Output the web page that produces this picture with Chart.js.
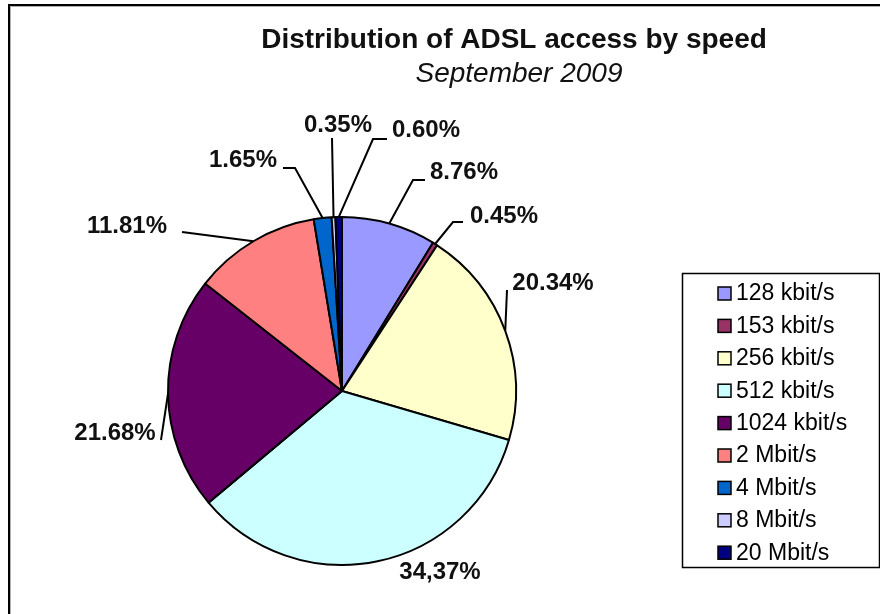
<!DOCTYPE html>
<html>
<head>
<meta charset="utf-8">
<script src="https://cdn.jsdelivr.net/npm/chart.js@4.4.0/dist/chart.umd.min.js"></script>
<style>
  html, body { margin: 0; padding: 0; background: #ffffff; }
  #wrap { width: 880px; height: 614px; }
</style>
</head>
<body>
<div id="wrap"><canvas id="c" width="880" height="614"></canvas></div>
<script>
// ---- data ----
const categories = ['128 kbit/s', '153 kbit/s', '256 kbit/s', '512 kbit/s', '1024 kbit/s', '2 Mbit/s', '4 Mbit/s', '8 Mbit/s', '20 Mbit/s'];
const shares = [8.76, 0.45, 20.34, 34.37, 21.68, 11.81, 1.65, 0.35, 0.60];
const valueLabels = ['8.76%', '0.45%', '20.34%', '34,37%', '21.68%', '11.81%', '1.65%', '0.35%', '0.60%'];
const sliceColors = ['#9999FF', '#993366', '#FFFFCC', '#CCFFFF', '#660066', '#FF8080', '#0066CC', '#CCCCFF', '#000080'];
const titleText = 'Distribution of ADSL access by speed';
const subtitleText = 'September 2009';

// label layout (offsets from pie centre, px): text centre, elbow, tail end
const labelLayout = [
  { t: [122, -219], e: [71, -211], tail: [83, -211] },
  { t: [162, -175], e: [111, -169], tail: [121, -169] },
  { t: [211, -108], e: [165, -101] },
  { t: [98, 181] },
  { t: [-227, 42], e: [-181, 49] },
  { t: [-215, -165], e: [-160, -159] },
  { t: [-99, -231], e: [-47, -223], tail: [-59, -223] },
  { t: [-4, -266], e: [-10, -253] },
  { t: [84, -261], e: [31, -252], tail: [45, -252] }
];

const framePlugin = {
  id: 'frame',
  beforeDraw(chart) {
    const ctx = chart.ctx;
    ctx.save();
    ctx.fillStyle = '#ffffff';
    ctx.fillRect(0, 0, chart.width, chart.height);
    ctx.strokeStyle = '#000000';
    ctx.lineWidth = 2;
    ctx.strokeRect(9, 5, 1100, 800);
    ctx.strokeStyle = '#b0b0b0';
    ctx.lineWidth = 1;
    ctx.strokeRect(10.5, 6.5, 1100, 800);
    ctx.restore();
  }
};

const decorPlugin = {
  id: 'decor',
  afterDraw(chart) {
    const ctx = chart.ctx;
    const meta = chart.getDatasetMeta(0);
    ctx.save();
    // title
    ctx.fillStyle = '#111111';
    ctx.textAlign = 'center';
    ctx.textBaseline = 'alphabetic';
    ctx.font = 'bold 28px "Liberation Sans", Arial, sans-serif';
    ctx.fillText(titleText, 514, 48);
    ctx.font = 'italic 28px "Liberation Sans", Arial, sans-serif';
    ctx.fillText(subtitleText, 519, 82);

    // data labels with leader lines
    ctx.font = 'bold 24px "Liberation Sans", Arial, sans-serif';
    ctx.textBaseline = 'middle';
    meta.data.forEach((arc, i) => {
      const p = arc.getProps(['x', 'y', 'startAngle', 'endAngle', 'outerRadius'], true);
      const cx = p.x, cy = p.y;
      const lay = labelLayout[i];
      const mid = (p.startAngle + p.endAngle) / 2;
      const ax = cx + p.outerRadius * Math.cos(mid);
      const ay = cy + p.outerRadius * Math.sin(mid);
      if (lay.e) {
        ctx.strokeStyle = '#000000';
        ctx.lineWidth = 2;
        ctx.beginPath();
        ctx.moveTo(ax, ay);
        ctx.lineTo(cx + lay.e[0], cy + lay.e[1]);
        if (lay.tail) ctx.lineTo(cx + lay.tail[0], cy + lay.tail[1]);
        ctx.stroke();
      }
      ctx.fillStyle = '#111111';
      ctx.textAlign = 'center';
      ctx.fillText(valueLabels[i], cx + lay.t[0], cy + lay.t[1]);
    });

    // legend
    const lx = 682, ly = 273, lw = 197, lh = 294;
    ctx.strokeStyle = '#000000';
    ctx.lineWidth = 1.5;
    ctx.strokeRect(lx + 0.5, ly + 0.5, lw, lh);
    ctx.font = '23px "Liberation Sans", Arial, sans-serif';
    ctx.textAlign = 'left';
    ctx.textBaseline = 'middle';
    const rowH = 32.4;
    chart.data.labels.forEach((lab, i) => {
      const yc = 293 + i * rowH;
      ctx.fillStyle = chart.data.datasets[0].backgroundColor[i];
      ctx.fillRect(718, yc - 6, 13, 13);
      ctx.strokeStyle = '#000000';
      ctx.lineWidth = 1.5;
      ctx.strokeRect(718, yc - 6, 13, 13);
      ctx.fillStyle = '#000000';
      ctx.fillText(lab, 736, yc + 1);
    });
    ctx.restore();
  }
};

new Chart(document.getElementById('c'), {
  type: 'pie',
  data: {
    labels: categories,
    datasets: [{
      data: shares,
      backgroundColor: sliceColors,
      borderColor: '#000000',
      borderWidth: 2
    }]
  },
  options: {
    responsive: false,
    animation: false,
    devicePixelRatio: 1,
    layout: { padding: { left: 167, top: 216, right: 363, bottom: 48 } },
    plugins: {
      legend: { display: false },
      title: { display: false },
      tooltip: { enabled: false }
    }
  },
  plugins: [framePlugin, decorPlugin]
});
</script>
</body>
</html>
